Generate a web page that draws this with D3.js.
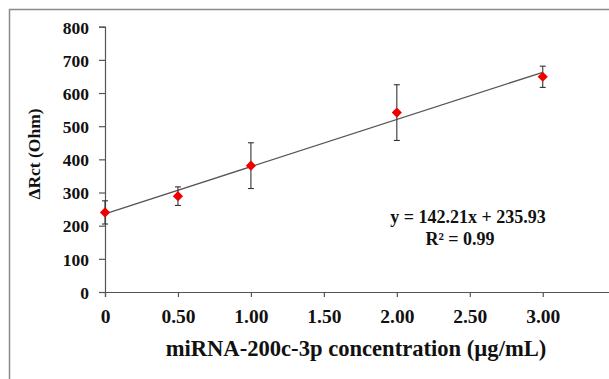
<!doctype html>
<html>
<head>
  <meta charset="utf-8">
  <title>Rct vs miRNA concentration</title>
  <style>
    html, body { margin: 0; padding: 0; background: #fff; }
    svg { display: block; }
    text { font-family: "Liberation Serif", "Times New Roman", serif; font-weight: bold; fill: #111; }
  </style>
</head>
<body>
  <script src="https://cdnjs.cloudflare.com/ajax/libs/d3/7.8.5/d3.min.js"></script>
  <script>
    // data
    var conc = [0, 0.5, 1, 2, 3];
    var drct = [240, 289, 381, 541, 649];
    var errs = [35, 28, 69, 84, 32];
    var xTicks = [0, 0.5, 1, 1.5, 2, 2.5, 3];
    var yTicks = [0, 100, 200, 300, 400, 500, 600, 700, 800];
    var slope = 142.21, intercept = 235.93;
    var eqLabel = 'y = 142.21x + 235.93';
    var r2Label = 'R\u00b2 = 0.99';

    var W = 609, H = 379;
    var svg = d3.select('body').append('svg')
      .attr('width', W)
      .attr('height', H);

    // frame (cropped: only top and left edges visible)
    svg.append('path')
      .attr('d', 'M9.5,' + H + 'V9.5H' + W)
      .attr('fill', 'none')
      .attr('stroke', '#8a8a8a')
      .attr('stroke-width', 1.5);

    var x = d3.scaleLinear().domain([0, 3.5]).range([105, 615.7]);
    var y = d3.scaleLinear().domain([0, 800]).range([292, 26.7]);

    // y axis
    var yAxis = svg.append('g')
      .attr('transform', 'translate(105,0)')
      .call(d3.axisLeft(y).tickValues(yTicks).tickSize(6).tickPadding(10).tickFormat(d3.format('d')));
    yAxis.selectAll('text')
      .style('font-size', '17.5px')
      .attr('dy', '0.36em');

    // x axis
    var xAxis = svg.append('g')
      .attr('transform', 'translate(0,292)')
      .call(d3.axisBottom(x).tickValues(xTicks).tickSize(5).tickPadding(12)
        .tickFormat(function(d) { return d == 0 ? '0' : d3.format('.2f')(d); }));
    xAxis.selectAll('text')
      .style('font-size', '19.5px')
      .attr('dy', '0.71em');

    svg.selectAll('.domain, .tick line')
      .attr('stroke', '#555')
      .attr('stroke-width', 1.2);
    svg.selectAll('.tick text').attr('fill', '#111');

    // axis titles
    svg.append('text')
      .attr('transform', 'translate(40,154) rotate(-90)')
      .attr('text-anchor', 'middle')
      .style('font-size', '17.5px')
      .text('\u0394Rct (Ohm)');

    svg.append('text')
      .attr('x', 356)
      .attr('y', 356)
      .attr('text-anchor', 'middle')
      .style('font-size', '22.6px')
      .text('miRNA-200c-3p concentration (\u00b5g/mL)');

    // linear fit
    svg.append('line')
      .attr('x1', x(0)).attr('y1', y(intercept))
      .attr('x2', x(3)).attr('y2', y(intercept + slope * 3))
      .attr('stroke', '#555')
      .attr('stroke-width', 1.3);

    // error bars
    var pts = conc.map(function(c, i) { return { x: c, y: drct[i], e: errs[i] }; });
    var eb = svg.append('g').attr('stroke', '#333').attr('stroke-width', 1.1);
    eb.selectAll('.bar').data(pts).enter().append('line')
      .attr('x1', d => x(d.x)).attr('x2', d => x(d.x))
      .attr('y1', d => y(d.y + d.e)).attr('y2', d => y(d.y - d.e));
    eb.selectAll('.capTop').data(pts).enter().append('line')
      .attr('x1', d => x(d.x) - 3).attr('x2', d => x(d.x) + 3)
      .attr('y1', d => y(d.y + d.e)).attr('y2', d => y(d.y + d.e));
    eb.selectAll('.capBot').data(pts).enter().append('line')
      .attr('x1', d => x(d.x) - 3).attr('x2', d => x(d.x) + 3)
      .attr('y1', d => y(d.y - d.e)).attr('y2', d => y(d.y - d.e));

    // diamond markers
    svg.selectAll('.pt').data(pts).enter().append('path')
      .attr('d', d3.symbol().type(d3.symbolSquare).size(52))
      .attr('transform', d => 'translate(' + x(d.x) + ',' + y(d.y) + ') rotate(45)')
      .attr('fill', '#ee0000');

    // equation
    svg.append('text')
      .attr('x', 468).attr('y', 223)
      .attr('text-anchor', 'middle')
      .style('font-size', '18px')
      .text(eqLabel);
    svg.append('text')
      .attr('x', 460).attr('y', 245)
      .attr('text-anchor', 'middle')
      .style('font-size', '18px')
      .text(r2Label);
  </script>
</body>
</html>
